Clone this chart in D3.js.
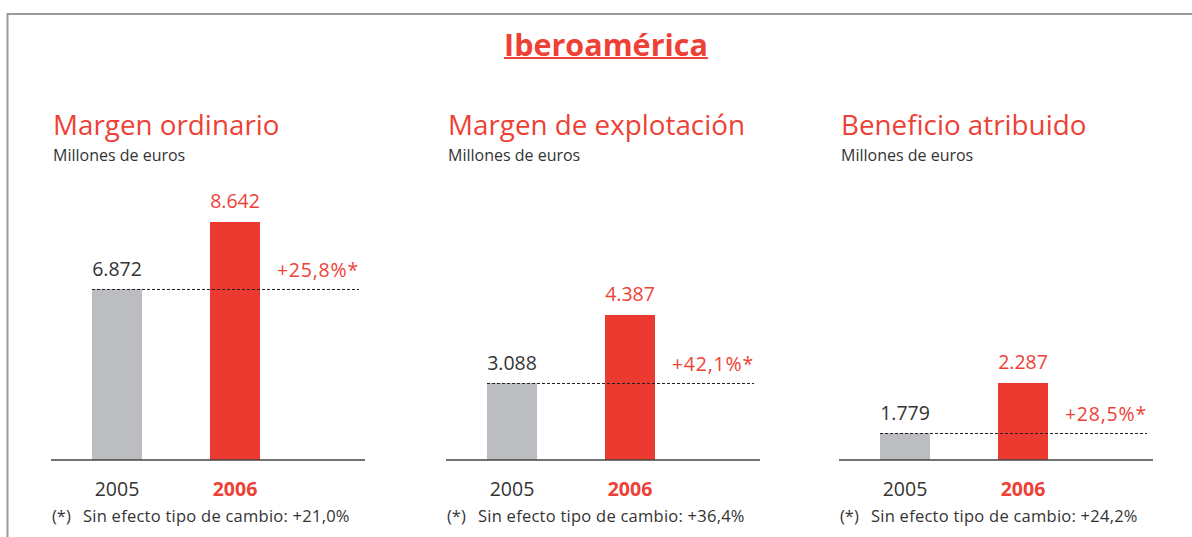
<html>
<head>
<meta charset="utf-8">
<title>Iberoamerica</title>
<script src="https://cdn.jsdelivr.net/npm/d3@7"></script>
<style>
  body { margin: 0; background: #fff; }
  svg text { font-family: 'Open Sans', sans-serif; }
</style>
</head>
<body>
<script>
// data
var pageTitle = 'Iberoamérica';
var panelTitles = ['Margen ordinario', 'Margen de explotación', 'Beneficio atribuido'];
var unitLabel = 'Millones de euros';
var years = ['2005', '2006'];
var values2005 = [6872, 3088, 1779];
var values2006 = [8642, 4387, 2287];
var growthLabels = ['+25,8%*', '+42,1%*', '+28,5%*'];
var fxLabels = ['+21,0%', '+36,4%', '+24,2%'];
// the bars are not drawn from zero, each panel has its own floor
var scaleFloor = [2354, 1617, 1505];

var red = '#ec3a30', redText = '#ee4136', grey = '#bcbdc0', dark = '#333';

var W = 1192, H = 537;
var svg = d3.select('body').append('svg').attr('width', W).attr('height', H);

// frame
svg.append('path')
   .attr('d', 'M7.5,' + H + 'V14H' + W)
   .attr('fill', 'none').attr('stroke', '#9b9b9b').attr('stroke-width', 2);

var title = svg.append('text')
   .attr('x', 606).attr('y', 56)
   .attr('text-anchor', 'middle')
   .attr('fill', redText)
   .style('font-size', '30.5px').style('font-weight', 'bold')
   .text(pageTitle);
var tw = title.node().getComputedTextLength();
svg.append('rect').attr('x', 606 - tw / 2).attr('y', 57).attr('width', tw).attr('height', 2).attr('fill', redText);

var fmt = d3.formatLocale({decimal: ',', thousands: '.', grouping: [3], currency: ['', '€']}).format(',d');

var panelX = [51, 446, 839];
var panelW = 314, baseY = 460;
var topY = [222, 315, 383];

panelTitles.forEach(function(t, i) {
  var g = svg.append('g').attr('transform', 'translate(' + panelX[i] + ',0)');
  var vals = [values2005[i], values2006[i]];

  var x = d3.scalePoint().domain(years).range([66, 184]);
  var y = d3.scaleLinear().domain([scaleFloor[i], values2006[i]]).range([baseY, topY[i]]);
  var bw = 50;

  g.append('text').attr('x', 2).attr('y', 135)
    .attr('fill', redText).style('font-size', '27.8px').text(t);
  g.append('text').attr('x', 2).attr('y', 161)
    .attr('fill', dark).style('font-size', '16px').text(unitLabel);

  g.selectAll('.bar').data(vals).enter().append('rect')
    .attr('class', 'bar')
    .attr('x', function(d, j) { return x(years[j]) - bw / 2; })
    .attr('y', function(d) { return y(d); })
    .attr('width', bw)
    .attr('height', function(d) { return baseY - y(d); })
    .attr('fill', function(d, j) { return j ? red : grey; });

  g.selectAll('.val').data(vals).enter().append('text')
    .attr('class', 'val')
    .attr('x', function(d, j) { return x(years[j]); })
    .attr('y', function(d, j) { return y(d) - (j ? 14 : 13); })
    .attr('text-anchor', 'middle')
    .attr('fill', function(d, j) { return j ? redText : dark; })
    .style('font-size', '19.5px')
    .text(function(d) { return fmt(d); });

  // reference line at 2005 level
  g.append('line')
    .attr('x1', x(years[0]) - bw / 2).attr('x2', panelW - 6)
    .attr('y1', y(vals[0]) + 0.5).attr('y2', y(vals[0]) + 0.5)
    .attr('stroke', '#222').attr('stroke-width', 1).attr('stroke-dasharray', '3,2');

  g.append('text')
    .attr('x', panelW - 6).attr('y', y(vals[0]) - 12)
    .attr('text-anchor', 'end')
    .attr('fill', redText).style('font-size', '19.5px').style('letter-spacing', '0.8px')
    .text(growthLabels[i]);

  // baseline
  g.append('line').attr('x1', 0).attr('x2', panelW)
    .attr('y1', baseY).attr('y2', baseY)
    .attr('stroke', '#444').attr('stroke-width', 1.5);

  g.selectAll('.yr').data(years).enter().append('text')
    .attr('class', 'yr')
    .attr('x', function(d) { return x(d); })
    .attr('y', 496)
    .attr('text-anchor', 'middle')
    .attr('fill', function(d, j) { return j ? redText : dark; })
    .style('font-size', '19.5px')
    .style('font-weight', function(d, j) { return j ? 'bold' : 'normal'; })
    .text(function(d) { return d; });

  g.append('text').attr('x', 1).attr('y', 522)
    .attr('fill', dark).style('font-size', '16.5px').text('(*)');
  g.append('text').attr('x', 32).attr('y', 522)
    .attr('fill', dark).style('font-size', '16.5px').style('letter-spacing', '0.25px')
    .text('Sin efecto tipo de cambio: ' + fxLabels[i]);
});
</script>
</body>
</html>
